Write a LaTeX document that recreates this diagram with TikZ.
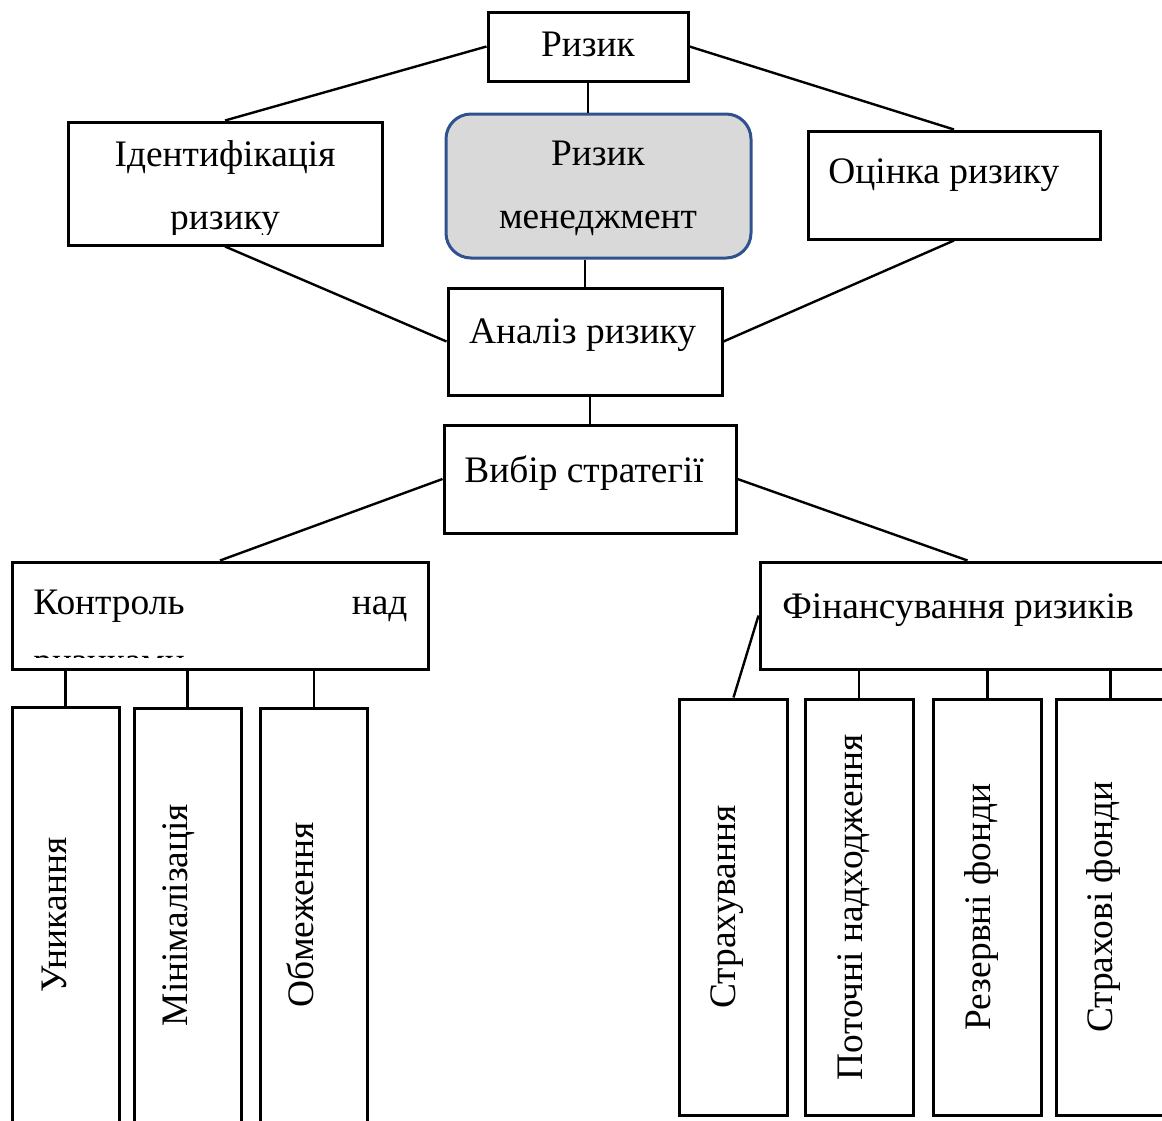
\documentclass[tikz,border=0pt]{standalone}
\usepackage{fontspec}
\setmainfont{Liberation Serif}
\definecolor{rmfill}{RGB}{217,217,217}
\definecolor{rmline}{RGB}{47,82,143}
\newcommand\boxfont{\fontsize{18.7}{31.5}\selectfont}
\tikzset{
  box/.style={draw, line width=1.5pt, inner sep=0pt},
  txt/.style={font=\boxfont, inner sep=0pt, anchor=base},
  vtxt/.style={txt, rotate=90},
  link/.style={line width=1.2pt},
}

\begin{document}
\begin{tikzpicture}[x=0.5pt, y=-0.5pt]
    \clip (0,0) rectangle (1162,1120);

    % Top row
    \node[box, minimum width=100pt, minimum height=34.5pt] (rizyk) at (588,46.5) {};
    \node[txt] (t-rizyk) at (588,56) {Ризик};

    \node[box, minimum width=157pt, minimum height=61.5pt] (ident) at (225,183.5) {};
    \begin{scope}
        \clip (70,124) rectangle (380,234);
        \node[txt, align=center] (t-ident) at (225,229) {Ідентифікація\\ризику};
    \end{scope}

    \node[box, draw=rmline, fill=rmfill, rounded corners=12.5pt,
          minimum width=152.5pt, minimum height=72pt] (menedzh) at (598.5,186) {};
    \node[txt, align=center] (t-menedzh) at (598,228) {Ризик\\менеджмент};

    \node[box, minimum width=146pt, minimum height=54pt] (otsinka) at (954,185) {};
    \node[txt, anchor=base west] (t-otsinka) at (828,183) {Оцінка ризику};

    % Middle
    \node[box, minimum width=137pt, minimum height=53.5pt] (analiz) at (585,341.5) {};
    \node[txt] (t-analiz) at (582.5,343) {Аналіз ризику};

    \node[box, minimum width=146pt, minimum height=54pt] (vybir) at (590,479) {};
    \node[txt] (t-vybir) at (584,482) {Вибір стратегії};

    % Strategy groups
    \node[box, minimum width=208pt, minimum height=53.5pt] (kontrol) at (220,615.5) {};
    \begin{scope}
        \clip (14,564) rectangle (426,657);
        \node[txt, anchor=base west, text width=187pt, align=left] (t-kontrol) at (33,614)
            {Контроль\hfill над\\[-2pt]ризиками};
    \end{scope}

    \node[box, minimum width=207.5pt, minimum height=53.5pt] (finans) at (967.5,615.5) {};
    \node[txt, anchor=base west] (t-finans) at (782,618) {Фінансування ризиків};

    % Control methods
    \foreach \n/\x/\y/\bx/\t in {unyk/65.5/920.5/66/Уникання,
                                 minim/187.5/921.5/187/Мінімалізація,
                                 obmezh/314/921.5/313/Обмеження} {
        \node[box, minimum width=53.5pt, minimum height=213.5pt] (\n) at (\x,\y) {};
        \node[vtxt] (t-\n) at (\bx,915) {\t};
        \draw[link] (\n.north) -- (\n.north |- kontrol.south);
    }

    % Financing methods
    \foreach \n/\x/\bx/\t in {strakh/733.5/735/Страхування,
                              potochni/859/862/Поточні надходження,
                              rezerv/987.5/990/Резервні фонди,
                              strfond/1110.5/1112/Страхові фонди} {
        \node[box, minimum width=54pt, minimum height=208pt] (\n) at (\x,907) {};
        \node[vtxt] (t-\n) at (\bx,907) {\t};
    }
    \foreach \n in {potochni, rezerv, strfond}
        \draw[link] (\n.north) -- (\n.north |- finans.south);

    % Links
    \draw[link] (rizyk.west) -- (ident.north);
    \draw[link] (rizyk.east) -- (otsinka.north);
    \draw[link] (rizyk.south) -- (rizyk.south |- menedzh.north);
    \draw[link] (menedzh.south -| analiz.north) -- (analiz.north);
    \draw[link] (ident.south) -- (analiz.west);
    \draw[link] (otsinka.south) -- (analiz.east);
    \draw[link] (analiz.south -| vybir.north) -- (vybir.north);
    \draw[link] (vybir.west) -- (kontrol.north);
    \draw[link] (vybir.east) -- (finans.north);
    \draw[link] (finans.west) -- (strakh.north);
\end{tikzpicture}
\end{document}
